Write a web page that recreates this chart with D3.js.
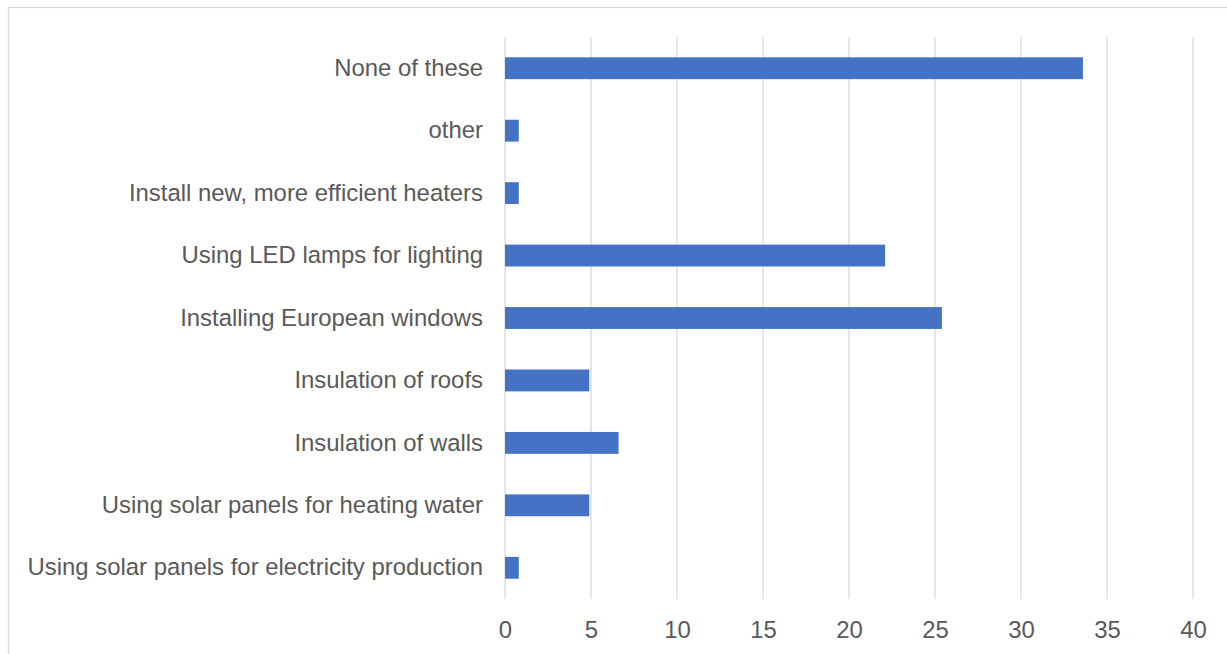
<!DOCTYPE html>
<html>
<head>
<meta charset="utf-8">
<script src="https://cdn.jsdelivr.net/npm/d3@7"></script>
<style>
  body { margin: 0; background: #fff; }
  text { font-family: "Liberation Sans", Arial, sans-serif; }
</style>
</head>
<body>
<div id="chart"></div>
<script>
// Data
var categories = [
  "None of these",
  "other",
  "Install new, more efficient heaters",
  "Using LED lamps for lighting",
  "Installing European windows",
  "Insulation of roofs",
  "Insulation of walls",
  "Using solar panels for heating water",
  "Using solar panels for electricity production"
];
var values = [33.6, 0.8, 0.8, 22.1, 25.4, 4.9, 6.6, 4.9, 0.8];
var xTicks = [0, 5, 10, 15, 20, 25, 30, 35, 40];

var W = 1227, H = 654;
var margin = {top: 37, right: 34, bottom: 55, left: 505},
    width = W - margin.left - margin.right,
    height = H - margin.top - margin.bottom;

var root = d3.select("#chart")
  .append("svg")
    .attr("width", W)
    .attr("height", H);

// chart frame (runs off the right / bottom edge)
root.append("rect")
  .attr("x", 8.5)
  .attr("y", 7.5)
  .attr("width", W + 20)
  .attr("height", H + 20)
  .attr("fill", "#fff")
  .attr("stroke", "#d9d9d9")
  .attr("stroke-width", 1.3);

var svg = root.append("g")
  .attr("transform", "translate(" + margin.left + "," + margin.top + ")");

// X scale
var x = d3.scaleLinear()
  .domain([0, 40])
  .range([0, width]);

// Y scale
var y = d3.scaleBand()
  .domain(categories)
  .range([0, height])
  .paddingInner(0.65)
  .paddingOuter(0.325);

// Gridlines
svg.append("g")
  .selectAll("line")
  .data(xTicks)
  .enter()
  .append("line")
    .attr("x1", function(d) { return x(d); })
    .attr("x2", function(d) { return x(d); })
    .attr("y1", 0)
    .attr("y2", height)
    .attr("stroke", "#d9d9d9")
    .attr("stroke-width", 1.3);

// X axis
svg.append("g")
  .attr("transform", "translate(0," + height + ")")
  .call(d3.axisBottom(x).tickValues(xTicks).tickSize(0).tickPadding(22))
  .call(function(g) { g.select(".domain").remove(); })
  .selectAll("text")
    .attr("fill", "#595959")
    .style("font-size", "23.9px");

// Y axis
svg.append("g")
  .call(d3.axisLeft(y).tickSize(0).tickPadding(22))
  .call(function(g) { g.select(".domain").remove(); })
  .selectAll("text")
    .attr("fill", "#595959")
    .style("font-size", "23.9px");

// Bars
svg.selectAll("mybar")
  .data(values)
  .enter()
  .append("rect")
    .attr("x", x(0))
    .attr("y", function(d, i) { return y(categories[i]); })
    .attr("width", function(d) { return x(d) - x(0); })
    .attr("height", y.bandwidth())
    .attr("fill", "#4472c4");
</script>
</body>
</html>
